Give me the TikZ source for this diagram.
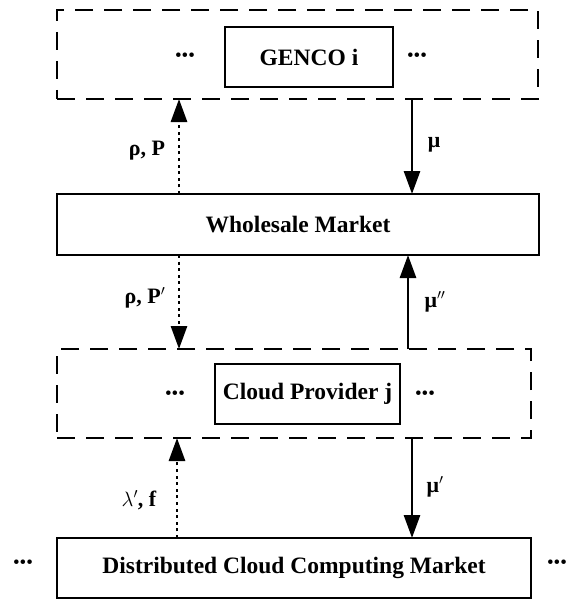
\documentclass[tikz,border=0pt]{standalone}
\usepackage{fontspec}
\setmainfont{Liberation Serif}
\usetikzlibrary{arrows.meta}
\begin{document}
\begin{tikzpicture}[x=1pt,y=-1pt,
  box/.style={draw,line width=2.5pt,inner sep=0pt,outer sep=0pt,
    font=\fontsize{23.5}{26}\selectfont\bfseries},
  groupbox/.style={draw,line width=2.5pt,inner sep=0pt,outer sep=0pt,
    dash pattern=on 18pt off 11pt},
  dots/.style={font=\fontsize{19}{22}\selectfont},
  lbl/.style={font=\fontsize{22}{26}\selectfont\bfseries},
  flow/.style={line width=2.8pt,-{Triangle[length=23pt,width=16pt]}},
  dotflow/.style={line width=2.8pt,dash pattern=on 3pt off 3.6pt,
    -{Triangle[length=23pt,width=16pt]}}]
\useasboundingbox (0,0) rectangle (567,599);

% generation layer
\node[groupbox,minimum width=481,minimum height=89] (gen) at (297.5,54.5) {};
\node[box,minimum width=168,minimum height=60] (genco) at (309,57) {GENCO i};
\node[dots] (gd1) at (185,57) {•••};
\node[dots] (gd2) at (417,57) {•••};

% wholesale market
\node[box,minimum width=482,minimum height=61] (wm) at (298,224.5) {Wholesale Market};

% cloud provider layer
\node[groupbox,minimum width=474,minimum height=89] (cp) at (294,393.5) {};
\node[box,minimum width=185,minimum height=60] (cpj) at (307.5,394) {Cloud Provider j};
\node[dots] (cd1) at (175,395) {•••};
\node[dots] (cd2) at (425,395) {•••};

% distributed market
\node[box,minimum width=474,minimum height=60] (dcc) at (294,568) {Distributed Cloud Computing Market};
\node[dots] (dd1) at (23,564) {•••};
\node[dots] (dd2) at (557,564) {•••};

% arrow columns
\coordinate (cl) at (179,0);
\coordinate (cr) at (412,0);
\coordinate (cr2) at (408,0);
\coordinate (cl2) at (177,0);

\draw[dotflow] (wm.north -| cl) -- (gen.south -| cl);
\draw[flow] (gen.south -| cr) -- (wm.north -| cr);
\draw[dotflow] (wm.south -| cl) -- (cp.north -| cl);
\draw[flow] (cp.north -| cr2) -- (wm.south -| cr2);
\draw[dotflow] (dcc.north -| cl2) -- (cp.south -| cl2);
\draw[flow] (cp.south -| cr) -- (dcc.north -| cr);

% arrow labels
\node[lbl] (l1) at (147,151) {ρ, P};
\node[lbl] (l2) at (434,145) {μ};
\node[lbl] (l3) at (145,298) {ρ, P$'$};
\node[lbl] (l4) at (435,302) {μ$''$};
\node[lbl] (l5) at (139,500) {$\lambda'$, f};
\node[lbl] (l6) at (435,487) {μ$'$};
\end{tikzpicture}
\end{document}
